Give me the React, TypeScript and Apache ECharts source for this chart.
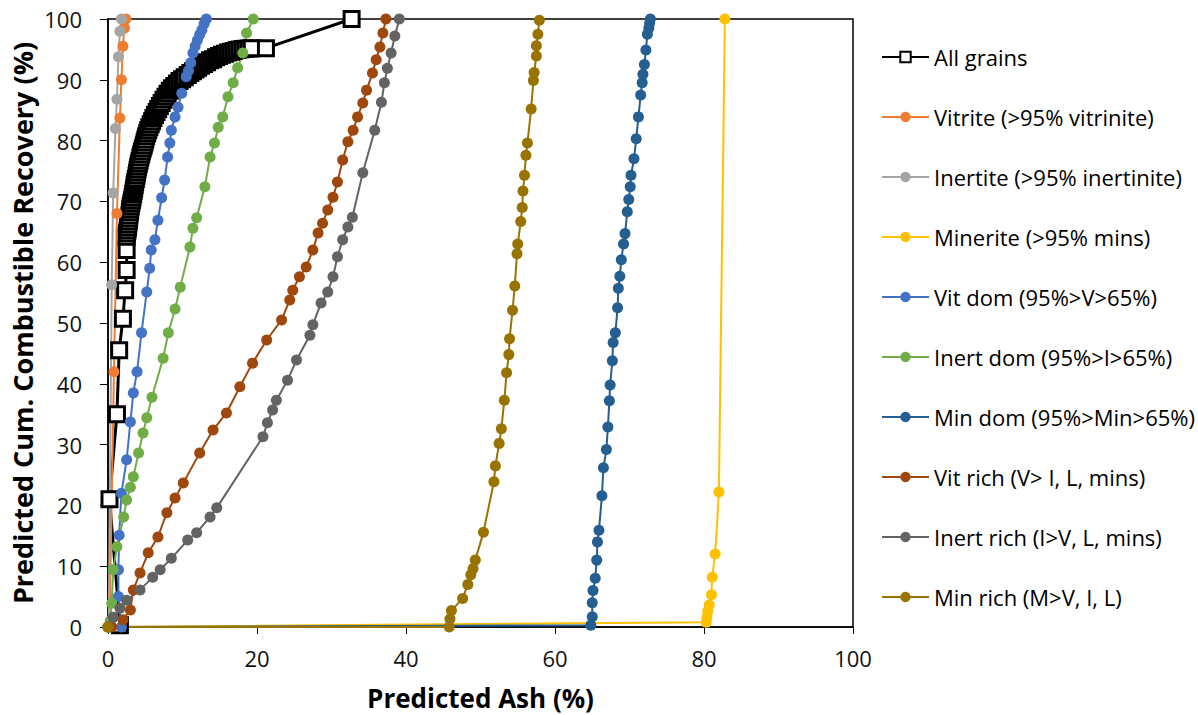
import React, { useEffect, useRef } from "react";
import * as echarts from "echarts";

const seriesNames = [
  "All grains",
  "Vitrite (>95% vitrinite)",
  "Inertite (>95% inertinite)",
  "Minerite (>95% mins)",
  "Vit dom (95%>V>65%)",
  "Inert dom (95%>I>65%)",
  "Min dom (95%>Min>65%)",
  "Vit rich (V> I, L, mins)",
  "Inert rich (I>V, L, mins)",
  "Min rich (M>V, I, L)",
];

const seriesColors = [
  "#000000", "#ED7D31", "#A5A5A5", "#FFC000", "#4472C4",
  "#70AD47", "#255E91", "#9E480E", "#636363", "#997300",
];

// [ash %, cumulative combustible recovery %]
const allGrains = [
  [1.6, 0.3], [0.2, 21], [1.2, 35], [1.5, 45.5], [2.0, 50.7], [2.3, 55.4], [2.5, 58.7],
  [2.5, 62], [2.5, 64.2], [2.55, 64.7], [2.62, 65.2], [2.68, 65.7], [2.72, 66.2], [2.78, 66.7],
  [2.83, 67.2], [2.88, 67.7], [2.93, 68.2], [2.98, 68.7], [3.05, 69.2], [3.13, 69.7],
  [3.22, 70.2], [3.3, 70.7], [3.38, 71.2], [3.45, 71.7], [3.52, 72.2], [3.58, 72.7],
  [3.65, 73.2], [3.74, 73.7], [3.83, 74.2], [3.9, 74.7], [3.97, 75.2], [4.05, 75.7],
  [4.14, 76.2], [4.24, 76.7], [4.34, 77.2], [4.45, 77.7], [4.55, 78.2], [4.67, 78.7],
  [4.8, 79.2], [4.9, 79.7], [5.0, 80.2], [5.12, 80.7], [5.26, 81.2], [5.4, 81.7],
  [5.55, 82.2], [5.73, 82.7], [5.92, 83.2], [6.1, 83.7], [6.3, 84.2], [6.52, 84.7],
  [6.74, 85.2], [6.96, 85.7], [7.2, 86.2], [7.45, 86.7], [7.72, 87.2], [8.0, 87.7],
  [8.3, 88.2], [8.6, 88.6], [8.9, 89.0], [9.25, 89.4], [9.6, 89.8], [9.95, 90.1],
  [10.3, 90.4], [10.7, 90.8], [11.05, 91.1], [11.4, 91.4], [11.75, 91.7], [12.1, 92.0],
  [12.5, 92.3], [12.9, 92.6], [13.3, 92.9], [13.7, 93.2], [14.1, 93.4], [14.5, 93.7],
  [14.9, 93.9], [15.3, 94.1], [15.7, 94.3], [16.1, 94.5], [16.5, 94.6], [16.9, 94.75],
  [17.3, 94.9], [17.7, 95.0], [18.1, 95.05], [18.5, 95.1], [18.9, 95.15], [19.3, 95.2],
  [21.2, 95.2], [32.7, 100],
];

const vitrite = [
  [0.2, 0], [0.8, 42], [1.2, 68], [1.6, 83.7], [1.8, 90], [2.0, 95.5], [2.2, 98.5], [2.4, 100],
];

const inertite = [
  [0.1, 0], [0.5, 56.3], [0.7, 71.4], [1.0, 82], [1.2, 86.8], [1.4, 93.8], [1.6, 98], [1.8, 100],
];

const minerite = [
  [0, 0], [80.3, 0.8], [80.4, 1.6], [80.5, 2.6], [80.7, 3.6], [81.0, 5.3], [81.1, 8.2],
  [81.5, 12], [82.0, 22.2], [82.8, 100],
];

const vitDom = [
  [1.8, 0], [1.4, 5], [1.4, 9.4], [1.5, 15.1], [1.8, 22], [2.5, 27.5], [3.0, 33.7],
  [3.4, 38.5], [3.9, 42], [4.5, 48.4], [5.2, 55.1], [5.6, 59], [5.8, 62], [6.3, 63.7],
  [6.7, 66.9], [7.2, 70.6], [7.6, 73.5], [8.0, 77.3], [8.3, 79.6], [8.5, 81.7], [9.0, 83.9],
  [9.4, 85.5], [9.9, 87.8], [10.5, 90.5], [10.8, 91.5], [11.1, 92.8], [11.4, 94.4],
  [11.7, 95.5], [12.0, 96.5], [12.3, 97.4], [12.6, 98.2], [12.9, 99.2], [13.2, 100],
];

const inertDom = [
  [0.3, 1], [0.5, 3.9], [0.7, 9.4], [1.2, 13.2], [2.1, 18.1], [2.5, 20.9], [3.0, 23],
  [3.4, 24.7], [4.1, 28.6], [4.7, 31.9], [5.2, 34.4], [5.9, 37.8], [7.4, 44.2], [8.1, 48.4],
  [9.0, 52.3], [9.7, 55.9], [11.0, 62.5], [11.4, 65.6], [11.9, 67.3], [13.0, 72.4],
  [13.7, 77.3], [14.3, 79.6], [14.8, 82.2], [15.4, 83.9], [16.1, 87.2], [16.8, 89.5],
  [17.4, 92], [18.1, 94.4], [18.6, 97.7], [19.5, 100],
];

const minDom = [
  [0, 0], [64.8, 0.3], [65.0, 1.7], [65.0, 4], [65.1, 6], [65.4, 8], [65.6, 11], [65.7, 14],
  [65.9, 15.9], [66.3, 21.6], [66.5, 26.2], [66.9, 29.2], [67.1, 32.9], [67.3, 37.2],
  [67.4, 39.8], [67.7, 43.8], [67.8, 46.8], [68.1, 48.4], [68.4, 52.5], [68.5, 55.7],
  [68.7, 57.7], [68.9, 60.4], [69.2, 63], [69.4, 64.7], [69.7, 68.3], [69.9, 70.3],
  [70.1, 72.4], [70.2, 74.3], [70.6, 77], [70.9, 80.3], [71.2, 83.9], [71.5, 87.5],
  [71.7, 89.5], [71.8, 90.9], [72.0, 92.5], [72.2, 94.9], [72.4, 97.5], [72.6, 98.5],
  [72.7, 99.3], [72.8, 100],
];

const vitRich = [
  [0.5, 0], [2.0, 1.2], [3.0, 2.8], [3.4, 6.1], [4.3, 8.9], [5.4, 12.2], [6.7, 14.8],
  [7.9, 18.8], [9.0, 21.2], [10.1, 23.7], [12.3, 28.6], [14.1, 32.4], [15.9, 35.2],
  [17.7, 39.5], [19.4, 43.4], [21.3, 47.2], [23.3, 50.5], [24.4, 53.8], [24.8, 55.4],
  [25.7, 57.6], [26.6, 59.2], [27.5, 62], [28.2, 64.8], [28.8, 66.4], [29.5, 68.6],
  [30.2, 70.7], [30.8, 73.2], [31.5, 76.8], [32.2, 79.8], [32.9, 81.7], [33.5, 83.9],
  [34.2, 86.2], [34.7, 88.3], [35.5, 91.1], [36.0, 93.3], [36.5, 95.4], [36.9, 97.7],
  [37.3, 100],
];

const inertRich = [
  [0, 0], [0.7, 1.6], [1.6, 3.1], [2.5, 4.4], [4.3, 6.1], [6.0, 8.2], [7.0, 9.4], [8.5, 11.3],
  [10.7, 14.3], [11.9, 15.5], [13.7, 18.1], [14.6, 19.6], [20.8, 31.3], [21.4, 33.6],
  [22.1, 35.7], [22.6, 37.3], [24.1, 40.6], [25.3, 43.9], [27.1, 48], [27.5, 49.7],
  [28.6, 53.3], [29.5, 55.1], [30.2, 57.6], [30.8, 60.9], [31.5, 63.7], [32.2, 65.8],
  [32.8, 67.4], [34.2, 74.7], [35.8, 81.7], [36.7, 86.3], [37.1, 89.5], [37.5, 91.9],
  [38.0, 94.4], [38.5, 97.2], [39.1, 100],
];

const minRich = [
  [0, 0], [45.8, 0], [45.9, 1.3], [46.1, 2.7], [47.6, 4.7], [48.3, 7], [48.7, 8.6],
  [49.0, 9.6], [49.3, 11], [50.4, 15.6], [51.8, 23.9], [52.0, 26.5], [52.5, 30.2],
  [52.8, 32.6], [53.2, 37.3], [53.5, 41.8], [53.8, 44.8], [53.9, 47.4], [54.3, 52.1],
  [54.6, 56.1], [54.9, 61.4], [55.0, 63], [55.4, 66.7], [55.6, 69], [55.7, 71.7],
  [55.9, 74.3], [56.1, 77.6], [56.3, 79.6], [56.8, 85.2], [57.1, 89.9], [57.2, 91.2],
  [57.5, 93.9], [57.5, 95.6], [57.7, 97.5], [57.9, 99.8],
];

const xTicks = { min: 0, max: 100, interval: 20 };
const yTicks = { min: 0, max: 100, interval: 10 };

export default function App() {
  const ref = useRef<HTMLDivElement>(null);
  useEffect(() => {
    document.body.style.margin = "0";
    if (!ref.current) return;
    const chart = echarts.init(ref.current, undefined, { renderer: "svg" });
    const datasets = [
      allGrains, vitrite, inertite, minerite, vitDom, inertDom, minDom, vitRich, inertRich, minRich,
    ];
    const font = "'Open Sans', 'Noto Sans', sans-serif";
    const series = datasets.map((d, i) => {
      if (i === 0) {
        return {
          name: seriesNames[i],
          type: "line",
          data: d,
          symbol: "rect",
          symbolSize: 15,
          lineStyle: { color: "#000", width: 3 },
          itemStyle: { color: "#fff", borderColor: "#000", borderWidth: 3 },
        };
      }
      return {
        name: seriesNames[i],
        type: "line",
        data: d,
        symbol: "circle",
        symbolSize: 11,
        lineStyle: { color: seriesColors[i], width: 2 },
        itemStyle: { color: seriesColors[i] },
      };
    });
    chart.setOption({
      animation: false,
      textStyle: { fontFamily: font },
      grid: {
        left: 108, right: 345, top: 19, bottom: 88,
        containLabel: false,
        outerBoundsMode: "none",
        show: true, borderColor: "#000", borderWidth: 1.5, backgroundColor: "transparent",
      },
      legend: {
        orient: "vertical",
        left: 876,
        top: 41,
        itemWidth: 47,
        itemHeight: 13,
        itemGap: 38,
        textStyle: { fontFamily: font, fontSize: 22, color: "#000" },
        data: seriesNames,
      },
      xAxis: {
        type: "value",
        ...xTicks,
        name: "Predicted Ash (%)",
        nameLocation: "middle",
        nameGap: 58,
        nameTextStyle: { fontFamily: font, fontSize: 26, fontWeight: "bold", color: "#000" },
        axisLine: { lineStyle: { color: "#000", width: 1.5 } },
        axisTick: { show: true, length: 7, lineStyle: { color: "#000" } },
        axisLabel: { fontFamily: font, fontSize: 22, color: "#111", margin: 20 },
        splitLine: { show: false },
      },
      yAxis: {
        type: "value",
        ...yTicks,
        name: "Predicted Cum. Combustible Recovery (%)",
        nameLocation: "middle",
        nameGap: 72,
        nameMoveOverlap: false,
        nameTextStyle: { fontFamily: font, fontSize: 27, fontWeight: "bold", color: "#000" },
        axisLine: { show: true, lineStyle: { color: "#000", width: 1.5 } },
        axisTick: { show: true, length: 8, lineStyle: { color: "#000" } },
        axisLabel: { fontFamily: font, fontSize: 22, color: "#111", margin: 26 },
        splitLine: { show: false },
      },
      series,
    });
    return () => chart.dispose();
  }, []);
  return <div ref={ref} style={{ width: 1198, height: 715 }} />;
}
